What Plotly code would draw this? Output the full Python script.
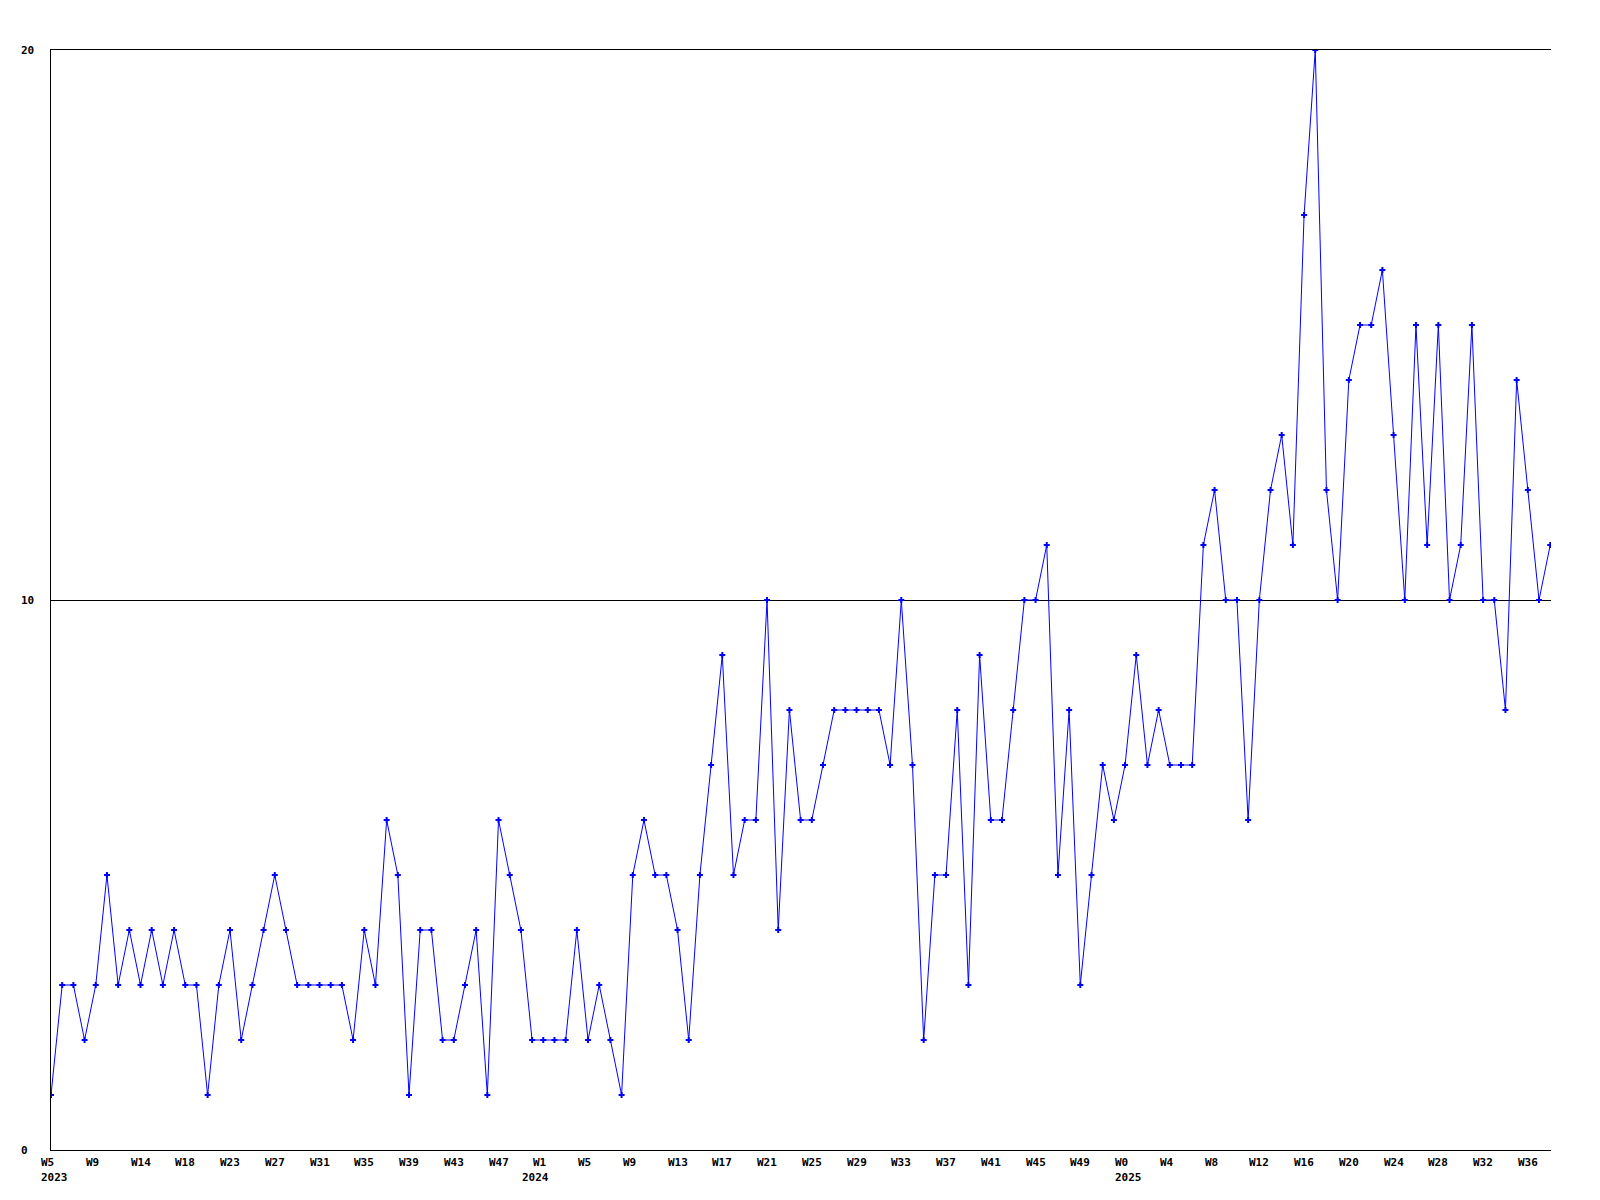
import plotly.graph_objects as go

# Weekly values, 2023 W5 .. 2025 W37 (one value per week)
values = [
    1, 3, 3, 2, 3, 5, 3, 4, 3, 4, 3, 4, 3, 3, 1, 3, 4, 2, 3, 4,
    5, 4, 3, 3, 3, 3, 3, 2, 4, 3, 6, 5, 1, 4, 4, 2, 2, 3, 4, 1,
    6, 5, 4, 2, 2, 2, 2, 4, 2, 3, 2, 1, 5, 6, 5, 5, 4, 2, 5, 7,
    9, 5, 6, 6, 10, 4, 8, 6, 6, 7, 8, 8, 8, 8, 8, 7, 10, 7, 2, 5,
    5, 8, 3, 9, 6, 6, 8, 10, 10, 11, 5, 8, 3, 5, 7, 6, 7, 9, 7, 8,
    7, 7, 7, 11, 12, 10, 10, 6, 10, 12, 13, 11, 17, 20, 12, 10, 14, 15, 15, 16,
    13, 10, 15, 11, 15, 10, 11, 15, 10, 10, 8, 14, 12, 10, 11,
]
x_index = list(range(len(values)))

# Week tick labels (every 4th point)
week_tick_pos = [0, 4, 8, 12, 16, 20, 24, 28, 32, 36, 40, 44, 48, 52, 56, 60, 64,
                 68, 72, 76, 80, 84, 88, 92, 96, 100, 104, 108, 112, 116, 120,
                 124, 128, 132]
week_tick_text = ["W5", "W9", "W14", "W18", "W23", "W27", "W31", "W35", "W39",
                  "W43", "W47", "W1", "W5", "W9", "W13", "W17", "W21", "W25",
                  "W29", "W33", "W37", "W41", "W45", "W49", "W0", "W4", "W8",
                  "W12", "W16", "W20", "W24", "W28", "W32", "W36"]
year_pos = [0, 43, 96]
year_text = ["2023", "2024", "2025"]

y_ticks = [0, 10, 20]
y_tick_text = ["0", "10", "20"]

# page body has an 8px margin in the browser
W, H = 1592, 1192
L, R, T, B = 43, 49, 42, 50
plot_w = W - L - R

font = dict(family="DejaVu Sans Mono", size=11, color="black")

fig = go.Figure()
fig.add_trace(go.Scatter(
    x=x_index, y=values, mode="lines+markers",
    line=dict(color="#0000ff", width=1),
    marker=dict(symbol="cross", size=5, color="#0000ff"),
    showlegend=False, hoverinfo="skip",
))

annotations = []
for p, t in zip(week_tick_pos, week_tick_text):
    annotations.append(dict(x=p, y=0, xref="x", yref="paper", text="<b>%s</b>" % t,
                            showarrow=False, xanchor="left", yanchor="middle",
                            xshift=-12, yshift=-12, font=font))
for p, t in zip(year_pos, year_text):
    annotations.append(dict(x=p, y=0, xref="x", yref="paper", text="<b>%s</b>" % t,
                            showarrow=False, xanchor="left", yanchor="middle",
                            xshift=-12, yshift=-27, font=font))
for v, t in zip(y_ticks, y_tick_text):
    annotations.append(dict(x=(19 - 51) / plot_w, y=v, xref="paper", yref="y",
                            text="<b>%s</b>" % t, showarrow=False,
                            xanchor="left", yanchor="middle", font=font))

fig.update_layout(
    width=W, height=H,
    margin=dict(l=L, r=R, t=T, b=B),
    paper_bgcolor="white", plot_bgcolor="white",
    xaxis=dict(range=[0, 134.07], showgrid=False, zeroline=False,
               showline=True, linecolor="black", linewidth=1, mirror=True,
               tickvals=week_tick_pos, showticklabels=False, ticks=""),
    yaxis=dict(range=[0, 20], tickvals=y_ticks, showticklabels=False,
               showgrid=True, gridcolor="black", gridwidth=1,
               zeroline=False, showline=True, linecolor="black", linewidth=1,
               ticks=""),
    annotations=annotations,
)

fig.write_html("out.html")
